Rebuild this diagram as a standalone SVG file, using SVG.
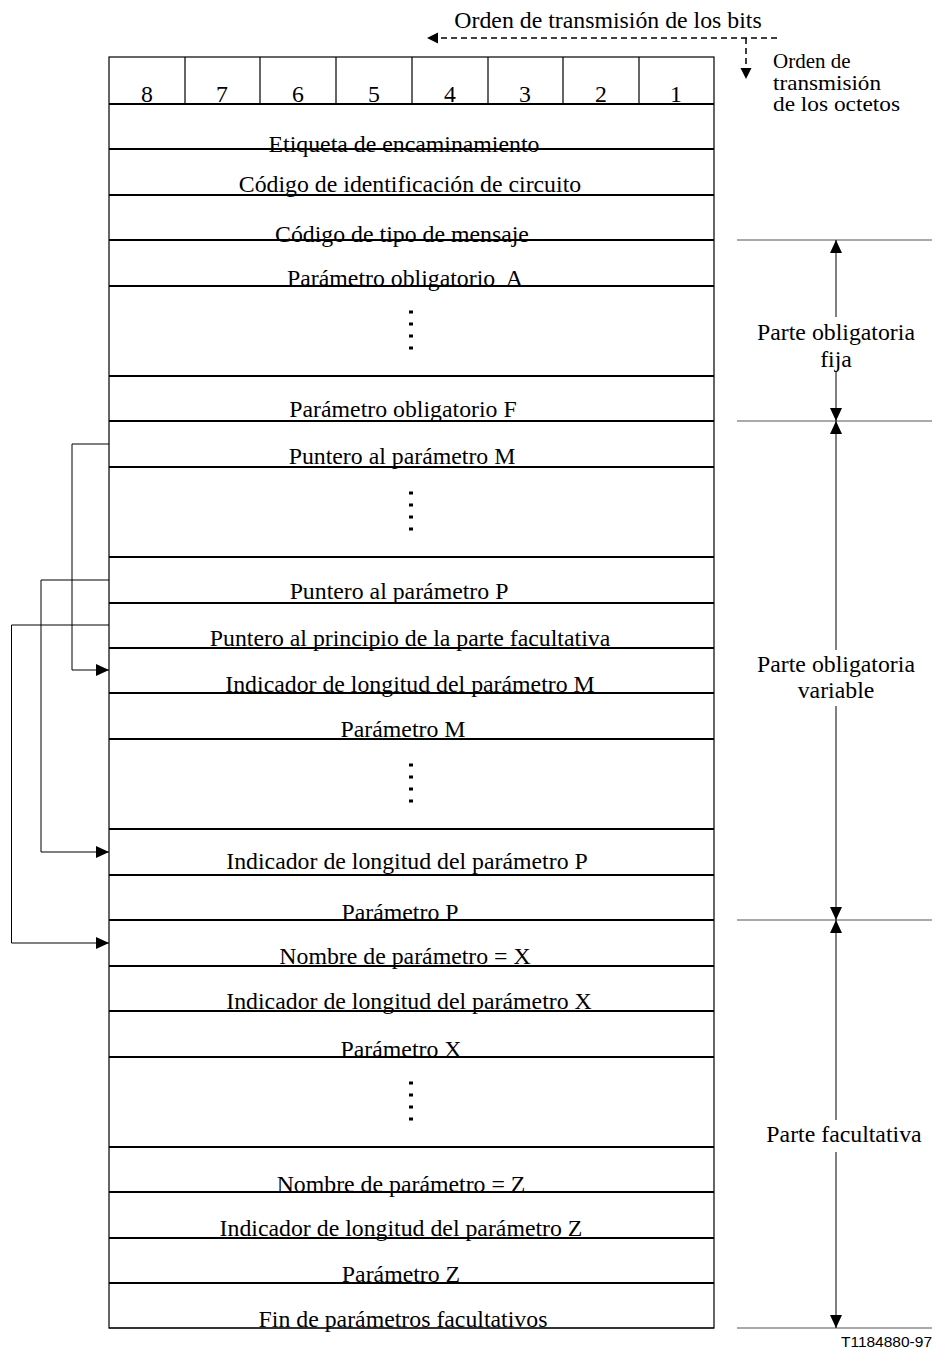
<svg xmlns="http://www.w3.org/2000/svg" width="932" height="1350" viewBox="0 0 932 1350">
<style>
text{font-family:"Liberation Serif","Times New Roman",serif;font-size:23.8px;fill:#000}
.c{text-anchor:middle}
.s{font-size:21px}
.hl{stroke:#000;stroke-width:2;fill:none}
.vl{stroke:#000;stroke-width:1.2;fill:none}
.thin{stroke:#000;stroke-width:1;fill:none}
.gl{stroke:#555;stroke-width:1;fill:none}
.dash{stroke:#000;stroke-width:1.5;stroke-dasharray:6,4;fill:none}
.id{font-family:"Liberation Sans",Arial,sans-serif;font-size:15.5px}
</style>
<defs>
<marker id="ah" viewBox="0 0 13 12" refX="13" refY="6" markerWidth="13" markerHeight="12" markerUnits="userSpaceOnUse" orient="auto-start-reverse"><path d="M0,0 L13,6 L0,12 Z" fill="#000"/></marker>
<g id="dots"><rect x="-2" y="-1.5" width="4" height="3"/><rect x="-2" y="10.5" width="4" height="3"/><rect x="-2" y="22.5" width="4" height="3"/><rect x="-2" y="34.5" width="4" height="3"/></g>
</defs>
<g id="header">
<text x="608" y="28" class="c">Orden de transmisión de los bits</text>
<text x="773" y="68" class="s">Orden de</text>
<text x="773" y="89.5" class="s" textLength="108" lengthAdjust="spacingAndGlyphs">transmisión</text>
<text x="773" y="111" class="s" textLength="127" lengthAdjust="spacingAndGlyphs">de los octetos</text>
</g>
<g id="bits">
<rect x="109" y="57" width="605" height="1271" class="vl"/>
<path class="vl" d="M185,57V104M260,57V104M336,57V104M412,57V104M488,57V104M563,57V104M639,57V104"/>
<text x="147" y="102" class="c">8</text>
<text x="222" y="102" class="c">7</text>
<text x="298" y="102" class="c">6</text>
<text x="374" y="102" class="c">5</text>
<text x="450" y="102" class="c">4</text>
<text x="525" y="102" class="c">3</text>
<text x="601" y="102" class="c">2</text>
<text x="676" y="102" class="c">1</text>
</g>
<g id="rows">
<path class="hl" d="M109,104H714M109,149H714M109,195H714M109,240H714M109,286H714M109,376H714M109,421H714M109,467H714M109,557H714M109,603H714M109,648H714M109,693H714M109,739H714M109,829H714M109,875H714M109,920H714M109,966H714M109,1011H714M109,1057H714M109,1147H714M109,1192H714M109,1238H714M109,1283H714"/>
<path class="thin" d="M109,1328H714"/>
<text x="404" y="152" class="c">Etiqueta de encaminamiento</text>
<text x="410" y="192" class="c">Código de identificación de circuito</text>
<text x="402" y="242" class="c">Código de tipo de mensaje</text>
<text x="405" y="286" class="c" xml:space="preserve">Parámetro obligatorio  A</text>
<use href="#dots" x="411" y="312"/>
<text x="403" y="417" class="c">Parámetro obligatorio F</text>
<text x="402" y="464" class="c">Puntero al parámetro M</text>
<use href="#dots" x="411" y="493"/>
<text x="399" y="599" class="c">Puntero al parámetro P</text>
<text x="410" y="646" class="c">Puntero al principio de la parte facultativa</text>
<text x="410" y="692" class="c">Indicador de longitud del parámetro M</text>
<text x="403" y="737" class="c">Parámetro M</text>
<use href="#dots" x="411" y="765"/>
<text x="407" y="869" class="c">Indicador de longitud del parámetro P</text>
<text x="400" y="920" class="c">Parámetro P</text>
<text x="405" y="964" class="c">Nombre de parámetro = X</text>
<text x="409" y="1009" class="c">Indicador de longitud del parámetro X</text>
<text x="401" y="1057" class="c">Parámetro X</text>
<use href="#dots" x="411" y="1083"/>
<text x="401" y="1192" class="c">Nombre de parámetro = Z</text>
<text x="401" y="1236" class="c">Indicador de longitud del parámetro Z</text>
<text x="401" y="1282" class="c">Parámetro Z</text>
<text x="403" y="1327" class="c">Fin de parámetros facultativos</text>
</g>
<g id="sections">
<path class="gl" d="M737,240H932M737,421H932M737,920H932M737,1328H932"/>
<text x="836" y="340" class="c">Parte obligatoria</text>
<text x="836" y="367" class="c">fija</text>
<text x="836" y="672" class="c">Parte obligatoria</text>
<text x="836" y="698" class="c">variable</text>
<text x="844" y="1142" class="c">Parte facultativa</text>
</g>
<g id="connectors">
<path class="dash" d="M777,38H437"/>
<path d="M427,38 L438,32.5 L438,43.5 Z"/>
<path class="dash" d="M746,38V68"/>
<path d="M746,79 L740.5,68 L751.5,68 Z"/>
<path class="thin" d="M836,240V317" marker-start="url(#ah)"/>
<path class="thin" d="M836,372V421" marker-end="url(#ah)"/>
<path class="thin" d="M836,421V650" marker-start="url(#ah)"/>
<path class="thin" d="M836,706V920" marker-end="url(#ah)"/>
<path class="thin" d="M836,920V1120" marker-start="url(#ah)"/>
<path class="thin" d="M836,1152V1328" marker-end="url(#ah)"/>
<path class="thin" d="M109,444H72V670H109" marker-end="url(#ah)"/>
<path class="thin" d="M109,580H41V852H109" marker-end="url(#ah)"/>
<path class="thin" d="M109,625H11.5V943H109" marker-end="url(#ah)"/>
</g>
<text x="932" y="1347" class="id" text-anchor="end">T1184880-97</text>
</svg>
